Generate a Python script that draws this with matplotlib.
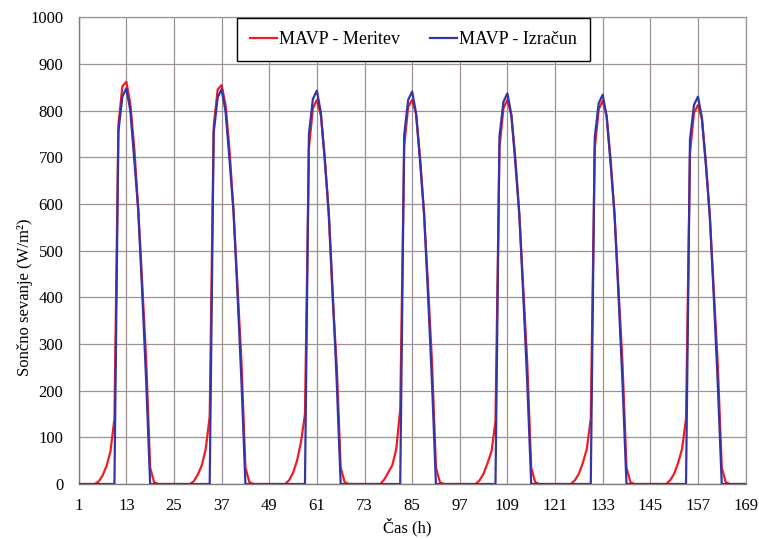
import matplotlib

matplotlib.use("Agg")

import matplotlib.pyplot as plt
import numpy as np

# hourly values, one row per day (hours 1-24, 25-48, ...), plus the last hour 169
MEASURED = [
    0, 0, 0, 0, 0, 5, 18, 38, 70, 140, 770, 852, 862, 815, 720, 590, 430, 265, 35, 4, 0, 0, 0, 0,
    0, 0, 0, 0, 0, 6, 20, 40, 75, 145, 765, 845, 855, 812, 715, 585, 425, 262, 35, 4, 0, 0, 0, 0,
    0, 0, 0, 0, 0, 8, 24, 50, 90, 150, 720, 805, 823, 790, 700, 575, 395, 255, 35, 4, 0, 0, 0, 0,
    0, 0, 0, 0, 0, 10, 25, 40, 75, 160, 725, 808, 823, 792, 700, 580, 425, 262, 35, 4, 0, 0, 0, 0,
    0, 0, 0, 0, 0, 8, 22, 45, 70, 135, 720, 805, 823, 790, 698, 578, 420, 260, 35, 4, 0, 0, 0, 0,
    0, 0, 0, 0, 0, 8, 22, 45, 75, 140, 718, 803, 821, 788, 696, 576, 418, 258, 35, 4, 0, 0, 0, 0,
    0, 0, 0, 0, 0, 8, 22, 45, 75, 140, 710, 795, 812, 782, 690, 572, 415, 256, 35, 4, 0, 0, 0, 0,
    0,
]
CALCULATED = [
    0, 0, 0, 0, 0, 0, 0, 0, 0, 0, 755, 830, 848, 800, 695, 585, 410, 220, 0, 0, 0, 0, 0, 0,
    0, 0, 0, 0, 0, 0, 0, 0, 0, 0, 752, 828, 846, 798, 694, 584, 409, 220, 0, 0, 0, 0, 0, 0,
    0, 0, 0, 0, 0, 0, 0, 0, 0, 0, 750, 825, 843, 796, 692, 582, 408, 219, 0, 0, 0, 0, 0, 0,
    0, 0, 0, 0, 0, 0, 0, 0, 0, 0, 748, 823, 841, 794, 690, 580, 406, 218, 0, 0, 0, 0, 0, 0,
    0, 0, 0, 0, 0, 0, 0, 0, 0, 0, 745, 819, 837, 791, 688, 578, 404, 217, 0, 0, 0, 0, 0, 0,
    0, 0, 0, 0, 0, 0, 0, 0, 0, 0, 742, 816, 834, 788, 686, 576, 402, 216, 0, 0, 0, 0, 0, 0,
    0, 0, 0, 0, 0, 0, 0, 0, 0, 0, 738, 812, 830, 785, 683, 574, 400, 215, 0, 0, 0, 0, 0, 0,
    0,
]
HOURS = np.arange(1, len(MEASURED) + 1)
X_TICKS = list(range(1, 170, 12))
Y_TICKS = list(range(0, 1001, 100))

SERIES_LABELS = ["MAVP - Meritev", "MAVP - Izračun"]
X_LABEL = "Čas (h)"
Y_LABEL = "Sončno sevanje (W/m²)"

RED = "#ee1c24"
BLUE = "#3436a6"
GRID = "#9c9292"
AXIS = "#7f7f7f"

plt.rcParams["font.family"] = ["Liberation Serif", "DejaVu Serif"]

fig = plt.figure(figsize=(7.59, 5.39), dpi=100)
ax = fig.add_axes([0.1037, 0.102, 0.8786, 0.8659])

ax.plot(HOURS, MEASURED, color=RED, lw=1.6, label=SERIES_LABELS[0], zorder=3)
ax.plot(HOURS, CALCULATED, color=BLUE, lw=1.6, label=SERIES_LABELS[1], zorder=4)

ax.set_xlim(1, 169)
ax.set_ylim(0, 1000)
ax.set_xticks(X_TICKS)
ax.set_yticks(Y_TICKS)
ax.grid(True, color=GRID, lw=0.9)
ax.set_axisbelow(True)
ax.tick_params(length=0, labelsize=12, colors="black")
ax.tick_params(axis="y", pad=11)
ax.tick_params(axis="x", pad=10)

for side in ["left", "bottom"]:
    ax.spines[side].set_color(AXIS)
    ax.spines[side].set_linewidth(1.0)
for side in ["top", "right"]:
    ax.spines[side].set_color(GRID)
    ax.spines[side].set_linewidth(0.9)

fig.text(407 / 759, 1 - 527 / 539, X_LABEL, ha="center", va="center", fontsize=12)
fig.text(25 / 759, 1 - 297 / 539, Y_LABEL, ha="center", va="center",
         rotation=90, fontsize=12)

leg = ax.legend(
    loc="center",
    bbox_to_anchor=(413.5 / 759, 1 - 39.5 / 539),
    bbox_transform=fig.transFigure,
    ncol=2,
    fontsize=13,
    frameon=True,
    fancybox=False,
    framealpha=1,
    edgecolor="black",
    borderpad=0.7,
    handlelength=1.5,
    handletextpad=0.1,
    columnspacing=1.7,
)
leg.get_frame().set_linewidth(1.0)

fig.savefig("out.png", dpi=100)
